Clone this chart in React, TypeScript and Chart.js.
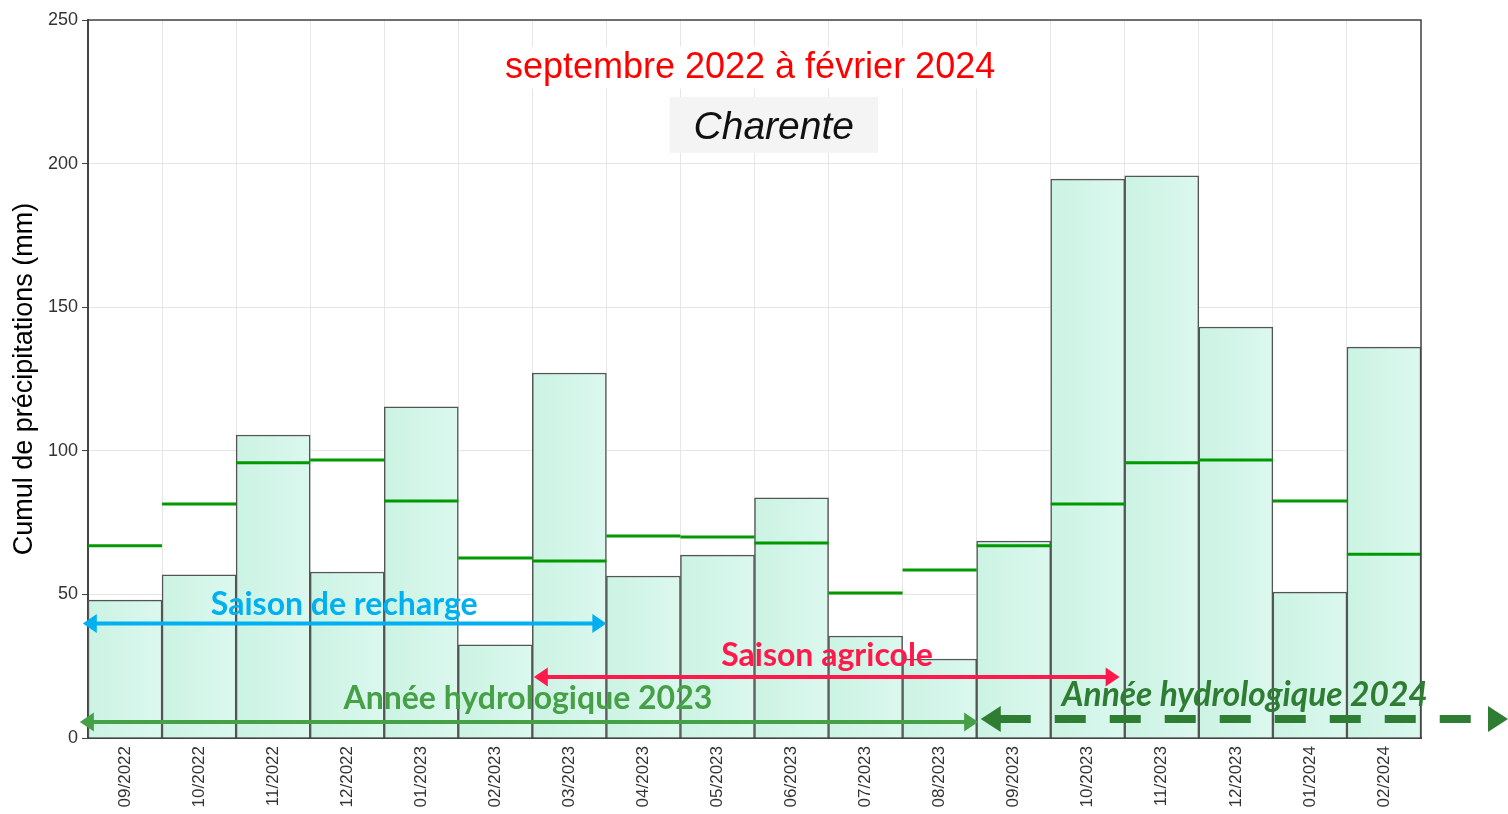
import React, { useEffect, useRef } from 'react';
import { Chart, registerables } from 'chart.js';

Chart.register(...registerables);

const months = [
  '09/2022', '10/2022', '11/2022', '12/2022', '01/2023', '02/2023',
  '03/2023', '04/2023', '05/2023', '06/2023', '07/2023', '08/2023',
  '09/2023', '10/2023', '11/2023', '12/2023', '01/2024', '02/2024',
];
const precipitation = [
  48.0, 56.8, 105.5, 57.8, 115.3, 32.4,
  127.1, 56.4, 63.7, 83.6, 35.5, 27.5,
  68.6, 194.6, 195.7, 143.1, 50.8, 136.1,
];
const normals = [
  66.9, 81.5, 95.8, 96.8, 82.5, 62.7,
  61.6, 70.3, 70.0, 67.9, 50.5, 58.5,
  66.9, 81.5, 95.8, 96.8, 82.5, 64.0,
];
const yTicks = [0, 50, 100, 150, 200, 250];

const titleText = 'septembre 2022 à février 2024';
const subtitleText = 'Charente';
const yTitle = 'Cumul de précipitations (mm)';

// Annotation arrows: start/end in category units, level in mm
const arrows = [
  { label: 'Saison de recharge', from: -0.57, to: 6.5, level: 39.9, color: '#00b0f0', textX: 2.96, textY: 42.8, italic: false, dashed: false, size: 32 },
  { label: 'Saison agricole', from: 5.52, to: 13.43, level: 21.2, color: '#ff1a4b', textX: 9.48, textY: 25.2, italic: false, dashed: false, size: 32 },
  { label: 'Année hydrologique 2023', from: -0.61, to: 11.52, level: 5.6, color: '#46a046', textX: 5.44, textY: 10.2, italic: false, dashed: false, size: 32 },
  { label: 'Année hydrologique 2024', from: 11.555, to: 18.68, level: 6.6, color: '#2e7d32', textX: 15.12, textY: 11.2, italic: true, dashed: true, size: 33.5 },
];

function head(ctx: CanvasRenderingContext2D, tipX: number, y: number, dir: number, len: number, half: number, color: string) {
  ctx.beginPath();
  ctx.moveTo(tipX, y);
  ctx.lineTo(tipX - dir * len, y - half);
  ctx.lineTo(tipX - dir * len, y + half);
  ctx.closePath();
  ctx.fillStyle = color;
  ctx.fill();
}

const overlayPlugin = {
  id: 'overlay',
  afterDraw(chart: any) {
    const { ctx, chartArea } = chart;
    const xs = chart.scales.x;
    const ys = chart.scales.y;
    ctx.save();

    // frame top and right
    ctx.strokeStyle = '#444';
    ctx.lineWidth = 1.5;
    ctx.beginPath();
    ctx.moveTo(chartArea.left, chartArea.top);
    ctx.lineTo(chartArea.right, chartArea.top);
    ctx.lineTo(chartArea.right, chartArea.bottom);
    ctx.stroke();

    // title
    const tx = xs.getPixelForValue(8.44);
    const ty = ys.getPixelForValue(229.9);
    ctx.font = '36px "Liberation Sans", Arial, sans-serif';
    const tw = ctx.measureText(titleText).width;
    ctx.fillStyle = '#ffffff';
    ctx.fillRect(tx - tw / 2 - 6, ty - 31, tw + 12, 42);
    ctx.fillStyle = '#ff0000';
    ctx.textAlign = 'center';
    ctx.textBaseline = 'alphabetic';
    ctx.fillText(titleText, tx, ty);

    // subtitle
    const sx = xs.getPixelForValue(8.76);
    const sy = ys.getPixelForValue(208.6);
    ctx.font = 'italic 39px "Liberation Sans", Arial, sans-serif';
    const sw = ctx.measureText(subtitleText).width;
    ctx.fillStyle = '#f4f4f4';
    ctx.fillRect(sx - sw / 2 - 24, sy - 42, sw + 48, 56);
    ctx.fillStyle = '#111111';
    ctx.fillText(subtitleText, sx, sy);

    // arrows
    for (const a of arrows) {
      const x1 = xs.getPixelForValue(a.from);
      const x2 = Math.min(xs.getPixelForValue(a.to), chart.width);
      const yy = ys.getPixelForValue(a.level);
      ctx.strokeStyle = a.color;
      if (a.dashed) {
        const len = 20, half = 13;
        ctx.lineWidth = 8;
        ctx.setLineDash([31, 24]);
        ctx.beginPath();
        ctx.moveTo(x1 + len - 1, yy);
        ctx.lineTo(x2 - len, yy);
        ctx.stroke();
        ctx.setLineDash([]);
        head(ctx, x1, yy, -1, len, half, a.color);
        head(ctx, x2, yy, 1, len, half, a.color);
      } else {
        const len = 14, half = 9.5;
        ctx.lineWidth = 4;
        ctx.beginPath();
        ctx.moveTo(x1 + len - 2, yy);
        ctx.lineTo(x2 - len + 2, yy);
        ctx.stroke();
        head(ctx, x1, yy, -1, len, half, a.color);
        head(ctx, x2, yy, 1, len, half, a.color);
      }
      ctx.font = (a.italic ? 'italic ' : '') + 'bold ' + a.size + 'px Lato, "Open Sans", sans-serif';
      ctx.fillStyle = a.color;
      ctx.textAlign = 'center';
      ctx.textBaseline = 'alphabetic';
      ctx.fillText(a.label, xs.getPixelForValue(a.textX), ys.getPixelForValue(a.textY));
    }
    ctx.restore();
  },
};

export default function App() {
  const canvasRef = useRef<HTMLCanvasElement | null>(null);

  useEffect(() => {
    document.body.style.margin = '0';
    const canvas = canvasRef.current;
    if (!canvas) return;
    const chart = new Chart(canvas, {
      type: 'bar',
      data: {
        labels: months,
        datasets: [
          {
            type: 'line',
            label: 'Normale',
            data: normals,
            showLine: false,
            pointStyle: 'line',
            pointRadius: (c: any) => {
              const xs = c.chart.scales.x;
              if (!xs) return 37;
              return Math.abs(xs.getPixelForValue(1) - xs.getPixelForValue(0)) / 2;
            },
            pointHoverRadius: 37,
            pointBorderWidth: 3,
            pointBorderColor: '#009a00',
            pointBackgroundColor: '#009a00',
            order: 0,
          } as any,
          {
            type: 'bar',
            label: 'Cumul',
            data: precipitation,
            backgroundColor: (c: any) => {
              const chart = c.chart;
              const xs = chart.scales.x;
              if (!xs || c.dataIndex === undefined) return '#d3f5e9';
              const cx = xs.getPixelForValue(c.dataIndex);
              const hw = Math.abs(xs.getPixelForValue(1) - xs.getPixelForValue(0)) / 2;
              if (!isFinite(cx) || !isFinite(hw)) return '#d3f5e9';
              const g = chart.ctx.createLinearGradient(cx - hw, 0, cx + hw, 0);
              g.addColorStop(0, '#cbf3e3');
              g.addColorStop(1, '#dcf8ef');
              return g;
            },
            borderColor: '#555555',
            borderWidth: 1.5,
            barPercentage: 1,
            categoryPercentage: 1,
            order: 1,
          } as any,
        ],
      },
      options: {
        animation: false,
        responsive: true,
        maintainAspectRatio: false,
        layout: { padding: { top: 20, right: 87, left: 0, bottom: 0 } },
        plugins: {
          legend: { display: false },
          tooltip: { enabled: false },
          title: { display: false },
        },
        scales: {
          x: {
            offset: true,
            grid: { color: '#e6e6e6', offset: true, drawTicks: false, lineWidth: 1 },
            border: { display: true, color: '#444', width: 2 },
            ticks: {
              minRotation: 90,
              maxRotation: 90,
              autoSkip: false,
              padding: 8,
              color: '#333',
              font: { family: '"Liberation Sans", Arial, sans-serif', size: 17 },
            },
            afterFit: (s: any) => { s.height = 76; },
          },
          y: {
            min: 0,
            max: 250,
            afterBuildTicks: (s: any) => { s.ticks = yTicks.map((v) => ({ value: v })); },
            grid: { color: '#e6e6e6', tickColor: '#444', tickLength: 6, lineWidth: 1 },
            border: { display: true, color: '#444', width: 2 },
            ticks: {
              padding: 4,
              color: '#333',
              font: { family: '"Liberation Sans", Arial, sans-serif', size: 18 },
            },
            title: {
              display: true,
              text: yTitle,
              color: '#000',
              padding: { top: 8, bottom: 4 },
              font: { family: '"Liberation Sans", Arial, sans-serif', size: 27 },
            },
            afterFit: (s: any) => { s.width = 88; },
          },
        },
      },
      plugins: [overlayPlugin],
    });
    return () => chart.destroy();
  }, []);

  return (
    <div style={{ width: '1508px', height: '814px', position: 'relative' }}>
      <canvas ref={canvasRef} />
    </div>
  );
}
